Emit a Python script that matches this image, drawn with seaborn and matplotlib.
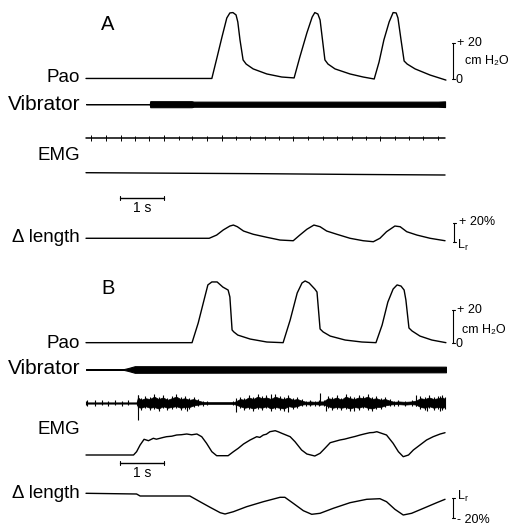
import numpy as np
import matplotlib
matplotlib.use("Agg")
import matplotlib.pyplot as plt
import seaborn as sns

# values: time in s, Pao in cm H2O,
# length in % of Lr, EMG in arbitrary units

# ---- A: no EMG activity ----
pao_a_t = [0.00, 1.45, 2.86, 2.98, 3.09, 3.20, 3.27, 3.34, 3.41, 3.45, 3.50, 3.57, 3.64, 3.80, 4.11, 4.45, 4.73,
           4.86, 5.02, 5.14, 5.20, 5.27, 5.32, 5.43, 5.50, 5.66, 6.00, 6.30, 6.55,
           6.66, 6.77, 6.89, 6.98, 7.05, 7.09, 7.16, 7.23, 7.30, 7.48, 7.82, 8.18]
pao_a = [0.3, 0.3, 0.3, 12.2, 23.3, 33.9, 36.7, 36.9, 35.6, 31.7, 21.7, 10.6, 8.3, 5.6, 2.8, 1.1, 0.6,
         12.2, 25.6, 34.4, 36.9, 36.1, 32.8, 10.6, 8.3, 5.6, 2.8, 1.1, 0.0,
         9.4, 21.7, 31.7, 36.9, 36.7, 33.9, 21.7, 10.0, 8.3, 5.6, 2.2, -0.6]

vib_a_t = [0.00, 1.45, 1.46, 2.40, 2.45, 8.00, 8.16]
vib_a = [0.0, 0.0, 1.0, 1.0, 0.85, 0.85, 0.95]

emg_a_spk_t = [0.11, 0.45, 0.79, 1.11, 1.44, 1.78, 2.11, 2.42, 2.76, 3.08, 3.41, 3.73, 4.07,
               4.39, 4.71, 5.05, 5.38, 5.70, 6.04, 6.36, 6.68, 7.02, 7.35, 7.67, 8.01]
emg_a_spk = [3, 3, 3, 2.5, 2.5, 3, 2, 2, 2.5, 3, 2, 2, 2, 2, 2.5, 2, 2, 2, 2, 2, 2.5, 2, 2, 2, 2]
emg_a_int_t = [0.00, 2.00, 4.00, 6.00, 8.16]
emg_a_int = [2.3, 1.8, 1.3, 0.6, 0.0]

len_a_t = [0.00, 2.80, 2.97, 3.12, 3.27, 3.35, 3.44, 3.58, 3.80, 4.11, 4.41, 4.71,
           4.86, 5.02, 5.18, 5.32, 5.47, 5.70, 6.00, 6.30, 6.53,
           6.68, 6.83, 7.02, 7.14, 7.29, 7.52, 7.82, 8.16]
len_a = [4.1, 4.1, 7.4, 12.6, 16.6, 17.6, 15.9, 11.5, 8.2, 5.1, 2.3, 1.6,
         7.4, 13.3, 17.6, 15.9, 11.5, 8.2, 4.1, 1.6, 0.6,
         4.1, 10.8, 16.6, 15.9, 10.8, 7.4, 4.1, 1.6]

# ---- B: vibration-induced EMG ----
pao_b_t = [0.00, 2.41, 2.55, 2.70, 2.77, 2.86, 2.98, 3.11, 3.23, 3.27, 3.32, 3.36, 3.45, 3.73, 4.11, 4.48,
           4.64, 4.80, 4.91, 4.98, 5.07, 5.20, 5.25, 5.32, 5.39, 5.55, 5.89, 6.27, 6.59,
           6.73, 6.86, 6.98, 7.07, 7.16, 7.23, 7.27, 7.34, 7.41, 7.59, 7.86, 8.18]
pao_b = [0.2, 0.2, 12.1, 27.9, 35.2, 37.0, 37.0, 33.9, 32.1, 27.9, 7.9, 6.7, 4.8, 2.4, 0.6, 0.2,
         13.9, 30.3, 36.4, 37.6, 36.4, 32.7, 30.9, 8.5, 6.7, 4.2, 1.8, 0.6, 0.2,
         10.9, 24.8, 32.7, 35.2, 34.5, 32.1, 26.1, 9.1, 7.3, 4.2, 1.8, 0.2]

vib_b_t = [0.00, 0.82, 0.95, 1.11, 8.18]
vib_b = [0.0, 0.0, 0.4, 1.0, 0.85]

emg_b_t = [0.00, 1.15,
           1.18, 1.25, 1.35, 1.45, 1.55, 1.65, 1.75, 1.85, 1.95, 2.05, 2.15, 2.25, 2.35, 2.45, 2.55, 2.65,
           2.75, 3.35,
           3.40, 3.50, 3.60, 3.70, 3.80, 3.90, 4.00, 4.10, 4.20, 4.30, 4.40, 4.50, 4.60, 4.70, 4.80, 4.90, 5.00,
           5.10, 5.20, 5.30,
           5.40, 5.50, 5.60, 5.70, 5.80, 5.90, 6.00, 6.10, 6.20, 6.30, 6.40, 6.50, 6.60, 6.70, 6.80, 6.90, 7.00,
           7.10, 7.25, 7.40,
           7.50, 7.60, 7.70, 7.80, 7.90, 8.00, 8.10, 8.16]
emg_b_hi = [0.8, 0.8,
            7, 4, 6, 5, 8, 5, 7, 4, 6, 8, 5, 6, 4, 5, 3, 1.5,
            1.2, 1.2,
            2, 5, 4, 7, 5, 8, 6, 7, 5, 8, 6, 5, 7, 4, 5, 3, 1.5,
            2, 1.5, 2,
            2, 6, 5, 7, 4, 8, 6, 5, 7, 6, 8, 5, 6, 4, 5, 3, 1.5,
            2, 1.5, 2,
            3, 6, 5, 7, 5, 6, 7, 5]
emg_b_lo = [0.8, 0.8,
            5, 6, 4, 6, 5, 7, 4, 6, 5, 4, 6, 5, 5, 3, 2, 1.5,
            1.2, 1.2,
            2, 4, 6, 5, 7, 5, 6, 4, 7, 5, 6, 7, 4, 5, 4, 2, 1.5,
            2, 1.5, 2,
            2, 4, 6, 5, 6, 5, 7, 5, 6, 4, 6, 7, 5, 5, 3, 2, 1.5,
            1.5, 2, 1.5,
            2, 5, 6, 4, 6, 5, 6, 5]
emg_b_spk_t = [0.02, 0.20, 0.36, 0.50, 0.66, 0.82, 0.95, 1.18, 2.30, 3.42, 4.20, 4.60,
               5.32, 5.45, 6.10, 7.50, 7.75, 8.05]
emg_b_spk_hi = [3, 3, 3, 2, 3, 2, 3, 8, 3, 5, 9, 3, 10, 3, 3, 8, 3, 7]
emg_b_spk_lo = [3, 3, 2, 3, 2, 3, 2, 17, 8, 9, 4, 9, 2, 8, 8, 3, 8, 8]

emg_b_int_t = [0.00, 1.08, 1.15, 1.23, 1.32, 1.42, 1.53, 1.60, 1.68, 1.75, 1.83, 1.95, 2.06, 2.17, 2.29,
               2.40, 2.52, 2.63, 2.74, 2.86, 2.97,
               3.23, 3.35, 3.46, 3.58, 3.73, 3.88, 3.95, 4.03, 4.10, 4.18, 4.30, 4.37, 4.45, 4.64, 4.75,
               4.90, 5.02, 5.20,
               5.32, 5.43, 5.55, 5.77, 5.88, 6.00, 6.12, 6.23, 6.34, 6.45, 6.53, 6.61, 6.83, 6.98, 7.10,
               7.21, 7.33, 7.44, 7.59, 7.74, 7.89, 8.05, 8.16]
emg_b_int = [0.0, 0.0, 3.3, 10.0, 15.7, 14.3, 16.7, 15.8, 16.7, 17.5, 18.3, 18.8, 20.0, 20.3, 21.0,
             20.2, 21.0, 18.3, 11.7, 3.3, -0.7,
             -0.7, 3.3, 6.7, 11.0, 15.0, 18.3, 17.6, 20.0, 20.8, 23.3, 24.3, 23.2, 21.7, 18.3, 13.3,
             5.0, 1.0, -1.0,
             1.7, 6.7, 12.3, 15.0, 15.9, 17.3, 18.6, 20.0, 21.2, 22.3, 22.5, 23.3, 20.0, 11.7, 3.3,
             -1.7, 0.0, 5.0, 10.0, 15.0, 18.3, 21.0, 22.3]

len_b_t = [0.00, 1.15, 1.23, 2.36, 2.59, 2.82, 3.05, 3.16, 3.35, 3.65, 4.03, 4.41, 4.52,
           4.71, 4.94, 5.13, 5.32, 5.62, 6.00, 6.38, 6.68,
           6.83, 7.02, 7.21, 7.40, 7.67, 7.97, 8.16]
len_b = [5.0, 4.3, 2.3, 2.3, -3.4, -9.0, -14.4, -15.7, -13.4, -8.4, -3.4, 1.0, 1.0,
         -5.0, -12.4, -16.0, -15.0, -10.0, -4.4, -1.0, -0.4,
         -3.4, -11.0, -16.7, -15.0, -10.0, -4.4, -1.0]

# ---- layout (page pixels) ----
X0, PX_S = 86, 44.0
LW = 1.0

sns.set_style("white")
plt.rcParams["font.family"] = ["Liberation Sans", "DejaVu Sans"]
plt.rcParams["text.color"] = "black"
plt.rcParams["mathtext.fontset"] = "custom"
plt.rcParams["mathtext.rm"] = "Liberation Sans"

fig = plt.figure(figsize=(5.26, 5.25), dpi=100)
ax = fig.add_axes([0, 0, 1, 1])


def tx(t):
    return X0 + np.asarray(t, dtype=float) * PX_S


def trace(t, v, y0, k, lw=LW):
    sns.lineplot(x=tx(t), y=y0 - np.asarray(v, dtype=float) * k, ax=ax,
                 color="black", lw=lw, sort=False, estimator=None)


def vibrator(t, amp, y0, k):
    a = np.asarray(amp, dtype=float) * k
    ax.fill_between(tx(t), y0 - a, y0 + a, color="black", lw=0.8, edgecolor="black")


def label(y, s, size=13.5):
    ax.text(80, y, s, ha="right", va="center", fontsize=size)


def vbar(x, y1, y2):
    ax.plot([x, x], [y1, y2], color="black", lw=0.8)
    ax.plot([x - 1.5, x + 1.5], [y1, y1], color="black", lw=0.8)
    ax.plot([x - 1.5, x + 1.5], [y2, y2], color="black", lw=0.8)


def sbar(y):
    ax.plot([120, 164], [y, y], color="black", lw=1.0)
    ax.plot([120, 120], [y - 2, y + 2], color="black", lw=0.8)
    ax.plot([164, 164], [y - 2, y + 2], color="black", lw=0.8)
    ax.text(142, y + 3, "1 s", ha="center", va="top", fontsize=10)


# panel A
ax.text(108, 25, "A", ha="center", va="center", fontsize=14.5)
trace(pao_a_t, pao_a, 79, 1.8)
vibrator(vib_a_t, vib_a, 104.2, 3.0)
trace([0, 8.16], [0, 0], 138, 1.0, lw=1.1)
ax.vlines(tx(emg_a_spk_t), 138 - np.array(emg_a_spk), 138 + np.array(emg_a_spk), color="black", lw=0.7)
trace(emg_a_int_t, emg_a_int, 175, 1.0)
trace(len_a_t, len_a, 242.3, 0.98)
sbar(198)

label(78, "Pao")
label(104, "Vibrator", 15)
label(156, "EMG")
label(238, "\u0394 length")

vbar(453, 43, 79)
ax.text(457, 43, "+ 20", ha="left", va="center", fontsize=9)
ax.text(465, 61, "cm H\u2082O", ha="left", va="center", fontsize=9)
ax.text(456, 80, "0", ha="left", va="center", fontsize=9)
vbar(454, 222.7, 242.3)
ax.text(459, 222, "+ 20%", ha="left", va="center", fontsize=9)
ax.text(457, 245, r"L$_{\mathregular{r}}$", ha="left", va="center", fontsize=9)

# panel B
ax.text(108, 288, "B", ha="center", va="center", fontsize=14.5)
trace(pao_b_t, pao_b, 343, 1.65)
vibrator(vib_b_t, vib_b, 369.5, 3.3)
ax.fill_between(tx(emg_b_t), 403 - np.array(emg_b_hi) * 0.8, 403 + np.array(emg_b_lo) * 0.8,
                color="black", lw=0.5, edgecolor="black")
ax.vlines(tx(emg_b_t), 403 - np.array(emg_b_hi) - 1, 403 + np.array(emg_b_lo) + 1, color="black", lw=0.8)
ax.vlines(tx(emg_b_spk_t), 403 - np.array(emg_b_spk_hi), 403 + np.array(emg_b_spk_lo), color="black", lw=0.8)
trace(emg_b_int_t, emg_b_int, 455, 1.0)
trace(len_b_t, len_b, 498.3, 1.0)
sbar(463)

label(343, "Pao")
label(369, "Vibrator", 15)
label(429, "EMG")
label(493, "\u0394 length")

vbar(453, 310, 343)
ax.text(457, 310, "+ 20", ha="left", va="center", fontsize=9)
ax.text(462, 330, "cm H\u2082O", ha="left", va="center", fontsize=9)
ax.text(456, 344, "0", ha="left", va="center", fontsize=9)
vbar(453, 498.3, 518.3)
ax.text(457, 496, r"L$_{\mathregular{r}}$", ha="left", va="center", fontsize=9)
ax.text(457, 520, "- 20%", ha="left", va="center", fontsize=9)

ax.set_xlim(0, 526)
ax.set_ylim(525, 0)
ax.axis("off")

fig.savefig("out.png", dpi=100, facecolor="white")
